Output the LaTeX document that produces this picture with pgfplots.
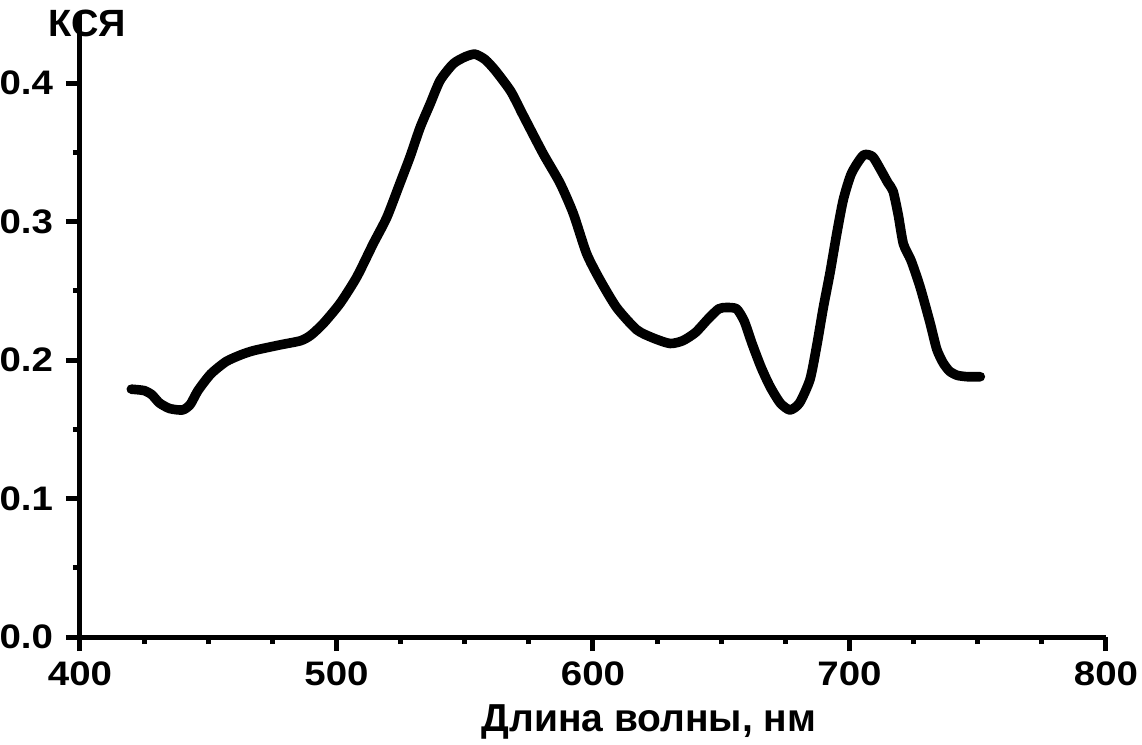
\documentclass[border=0pt]{standalone}
\usepackage{pgfplots}
\pgfplotsset{compat=1.18}
\usepackage{fontspec}
\setmainfont{Liberation Sans}
\newfontfamily\tickfont[FakeStretch=1.13]{Liberation Sans}
\begin{document}
\begin{tikzpicture}
\begin{axis}[
  name=ax,
  scale only axis,
  width=513pt, height=311.5pt,
  xmin=400, xmax=800, ymin=0, ymax=0.45,
  enlargelimits=false,
  axis lines=left,
  axis line style={-, line width=2.5pt},
  xtick={400,500,600,700,800},
  minor x tick num=3,
  ytick={0,0.1,0.2,0.3,0.4},
  minor ytick={0.05,0.15,0.25,0.35},
  tick align=outside,
  major tick length=7pt,
  minor tick length=3.5pt,
  every tick/.style={black, line width=2.5pt},
  /pgf/number format/assume math mode=true,
  yticklabel style={/pgf/number format/.cd, fixed, fixed zerofill, precision=1, /tikz/.cd, font=\tickfont\fontsize{17}{17}\selectfont\bfseries, xshift=-3pt},
  xticklabel style={font=\tickfont\fontsize{17}{17}\selectfont\bfseries, yshift=-2pt},
  scaled y ticks=false,
  clip=false,
]
\addplot[black, line width=4.8pt, smooth, tension=0.4, line join=round, line cap=round] coordinates {
(420,0.179) (425,0.178) (428,0.175) (431,0.169) (435,0.165) (440,0.164)
(443,0.168) (446,0.178) (451,0.190) (457,0.199) (463,0.204) (468,0.207)
(478,0.211) (486,0.214) (490,0.218) (494.9,0.2265) (501.4,0.241) (507.9,0.260)
(514.3,0.284) (519.6,0.303) (524.8,0.328) (528.7,0.347) (532.6,0.368) (536.5,0.385)
(540.4,0.402) (545.5,0.414) (550.1,0.419) (554,0.421) (558,0.417) (562,0.409)
(568,0.394) (573,0.376) (580.6,0.349) (587.1,0.328) (592.3,0.306) (597.5,0.277)
(602.7,0.258) (609.2,0.238) (617,0.222) (623.4,0.216) (630,0.212)
(635,0.214) (640,0.220) (645,0.230) (649,0.237) (652,0.238) (656,0.237)
(659,0.228) (662,0.212) (665.5,0.195) (669,0.181) (673,0.169) (676.8,0.164)
(680.5,0.169) (684.6,0.186) (687.2,0.210) (689.8,0.238) (692.4,0.263) (695,0.291)
(697.6,0.316) (700.8,0.335) (705.4,0.348) (709,0.347) (712,0.338) (715,0.328)
(717,0.322) (719,0.305) (721,0.284) (724,0.272) (727.5,0.253) (731.4,0.227)
(734,0.208) (736.5,0.198) (739,0.192) (742,0.189) (746,0.188) (751,0.188)
};
\node[font=\fontsize{19}{19}\selectfont\bfseries] at (rel axis cs:0.007,0.985) {КСЯ};
\node[font=\fontsize{19.5}{19.5}\selectfont\bfseries] at (rel axis cs:0.5546,0) [yshift=-42.5pt] {Длина волны, нм};
\end{axis}
\pgfresetboundingbox
\path[use as bounding box] ([xshift=-40pt,yshift=-54pt]ax.south west) rectangle ([xshift=531pt,yshift=318.5pt]ax.south west);
\end{tikzpicture}
\end{document}
